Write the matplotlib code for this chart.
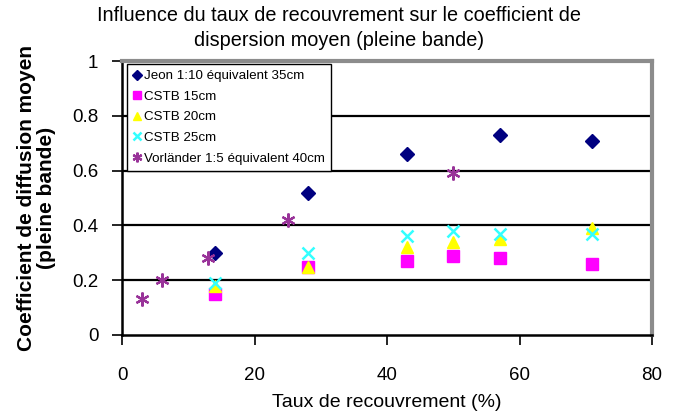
import matplotlib
matplotlib.use("Agg")
import matplotlib.pyplot as plt

plt.rcParams['font.family'] = ['Liberation Sans', 'DejaVu Sans']

# data
jeon_x = [14, 28, 43, 57, 71]
jeon_y = [0.30, 0.52, 0.66, 0.73, 0.71]
cstb15_x = [14, 28, 43, 50, 57, 71]
cstb15_y = [0.15, 0.25, 0.27, 0.29, 0.28, 0.26]
cstb20_x = [14, 28, 43, 50, 57, 71]
cstb20_y = [0.18, 0.25, 0.32, 0.34, 0.35, 0.39]
cstb25_x = [14, 28, 43, 50, 57, 71]
cstb25_y = [0.19, 0.30, 0.36, 0.38, 0.37, 0.37]
vorl_x = [3, 6, 13, 25, 50]
vorl_y = [0.13, 0.20, 0.28, 0.42, 0.59]

x_ticks = [0, 20, 40, 60, 80]
y_ticks = [0, 0.2, 0.4, 0.6, 0.8, 1]
y_ticklabels = ['0', '0.2', '0.4', '0.6', '0.8', '1']

fig = plt.figure(figsize=(6.78, 4.19), dpi=100)
ax = fig.add_axes([0.180, 0.2005, 0.7817, 0.6535])

# horizontal gridlines
for yv in y_ticks[1:-1]:
    ax.axhline(yv, color='black', lw=1.6, zorder=1)

ax.plot(jeon_x, jeon_y, ls='none', marker='D', ms=7, color='#000080',
        label='Jeon 1:10 équivalent 35cm', zorder=3)
ax.plot(cstb15_x, cstb15_y, ls='none', marker='s', ms=8.5, color='#FF00FF',
        label='CSTB 15cm', zorder=3)
ax.plot(cstb20_x, cstb20_y, ls='none', marker='^', ms=8.5, color='#FFFF00',
        label='CSTB 20cm', zorder=3)
ax.plot(cstb25_x, cstb25_y, ls='none', marker='x', ms=8.5, mew=1.8, color='#33FFFF',
        label='CSTB 25cm', zorder=3)
ax.plot(vorl_x, vorl_y, ls='none', marker=(6, 2, 0), ms=10, mew=1.6, color='#993399',
        label='Vorländer 1:5 équivalent 40cm', zorder=3)

ax.set_xlim(0, 80)
ax.set_ylim(0, 1)
ax.set_xticks(x_ticks)
ax.set_yticks(y_ticks)
ax.set_yticklabels(y_ticklabels)
ax.tick_params(axis='both', direction='out', length=7, width=1.2,
               labelsize=13.5)
ax.tick_params(axis='y', pad=10)
ax.tick_params(axis='x', pad=16)

for side in ['left', 'bottom']:
    ax.spines[side].set_color('black')
    ax.spines[side].set_linewidth(1.8)
for side in ['top', 'right']:
    ax.spines[side].set_color('#8c8c8c')
    ax.spines[side].set_linewidth(3)

ax.set_xlabel('Taux de recouvrement (%)', fontsize=14, labelpad=7)
ax.set_ylabel('Coefficient de diffusion moyen\n(pleine bande)', fontsize=15,
              fontweight='bold', labelpad=12, linespacing=1.05)

fig.suptitle('Influence du taux de recouvrement sur le coefficient de\n'
             'dispersion moyen (pleine bande)', fontsize=14.3, y=0.985,
             linespacing=1.35)

leg = ax.legend(loc='upper left', bbox_to_anchor=(0.005, 1.0), fontsize=9.6,
                frameon=True, fancybox=False, framealpha=1, edgecolor='black',
                handlelength=0.6, handletextpad=0.2, borderpad=0.45,
                labelspacing=0.62, borderaxespad=0.2, markerscale=0.7)
leg.get_frame().set_linewidth(1.0)
leg.set_zorder(5)

fig.savefig('out.png', dpi=100)
